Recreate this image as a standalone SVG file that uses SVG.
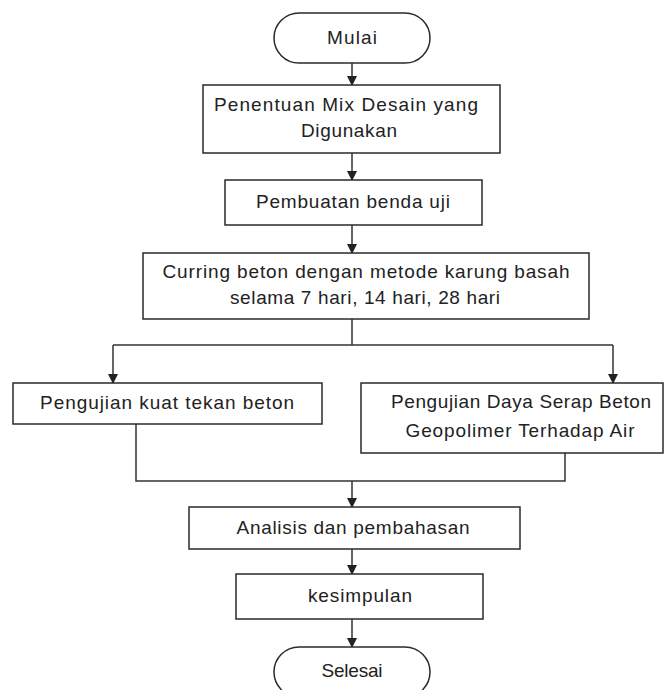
<svg xmlns="http://www.w3.org/2000/svg" width="665" height="690" viewBox="0 0 665 690">
<style>
.box{fill:#fff;stroke:#2a2a2a;stroke-width:1.5}
.t{font-family:"Liberation Sans",Arial,sans-serif;font-size:19px;fill:#222;text-anchor:middle}
.c{fill:none;stroke:#333;stroke-width:1.5}
</style>
<defs>
<marker id="ah" markerWidth="10" markerHeight="10" refX="9" refY="5" orient="auto" markerUnits="userSpaceOnUse">
<path d="M0,0 L10,5 L0,10 z" fill="#222"/>
</marker>
</defs>
<rect width="665" height="690" fill="#fff"/>
<g id="connectors">
<path class="c" d="M352,63 V85" marker-end="url(#ah)"/>
<path class="c" d="M352,153 V180" marker-end="url(#ah)"/>
<path class="c" d="M352,225 V253" marker-end="url(#ah)"/>
<path class="c" d="M352,319 V345 M113,345 H613"/>
<path class="c" d="M113,345 V383" marker-end="url(#ah)"/>
<path class="c" d="M613,345 V383" marker-end="url(#ah)"/>
<path class="c" d="M136,424 V481 H565 V453"/>
<path class="c" d="M352,481 V507" marker-end="url(#ah)"/>
<path class="c" d="M352,549 V574" marker-end="url(#ah)"/>
<path class="c" d="M352,619 V647" marker-end="url(#ah)"/>
</g>
<g id="mulai">
<rect class="box" x="274" y="13" width="156" height="50" rx="25" ry="25"/>
<text class="t" x="352" y="44" textLength="50">Mulai</text>
</g>
<g id="penentuan">
<rect class="box" x="203" y="85" width="297" height="68"/>
<text class="t" x="346" y="111" textLength="264">Penentuan Mix Desain yang</text>
<text class="t" x="349" y="137" textLength="96">Digunakan</text>
</g>
<g id="pembuatan">
<rect class="box" x="225" y="180" width="257" height="45"/>
<text class="t" x="353" y="208" textLength="194">Pembuatan benda uji</text>
</g>
<g id="curing">
<rect class="box" x="143" y="253" width="446" height="66"/>
<text class="t" x="366" y="278" textLength="407">Curring beton dengan metode karung basah</text>
<text class="t" x="365" y="304" textLength="270">selama 7 hari, 14 hari, 28 hari</text>
</g>
<g id="kuat-tekan">
<rect class="box" x="13" y="383" width="309" height="41"/>
<text class="t" x="167" y="409" textLength="254">Pengujian kuat tekan beton</text>
</g>
<g id="daya-serap">
<rect class="box" x="361" y="383" width="302" height="70"/>
<text class="t" x="521" y="408" textLength="260">Pengujian Daya Serap Beton</text>
<text class="t" x="520" y="437" textLength="229">Geopolimer Terhadap Air</text>
</g>
<g id="analisis">
<rect class="box" x="189" y="507" width="331" height="42"/>
<text class="t" x="353" y="534" textLength="233">Analisis dan pembahasan</text>
</g>
<g id="kesimpulan">
<rect class="box" x="236" y="574" width="247" height="45"/>
<text class="t" x="360" y="602" textLength="104">kesimpulan</text>
</g>
<g id="selesai">
<rect class="box" x="274" y="647" width="156" height="50" rx="25" ry="25"/>
<text class="t" x="352" y="677" textLength="61">Selesai</text>
</g>
</svg>
